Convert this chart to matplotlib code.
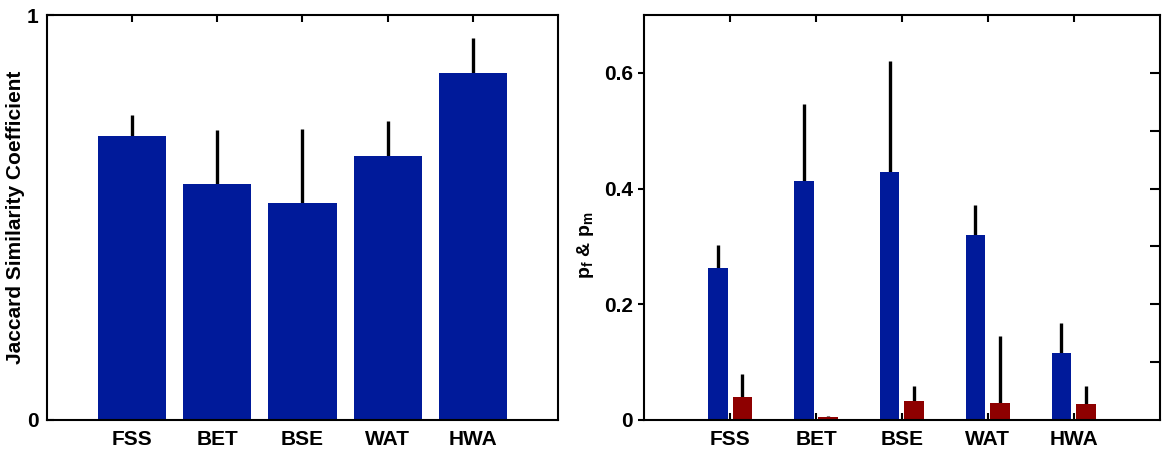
import numpy as np
import matplotlib
matplotlib.use("Agg")
import matplotlib.pyplot as plt

plt.rcParams['font.family'] = ['Liberation Sans', 'DejaVu Sans']
plt.rcParams['font.weight'] = 'bold'
plt.rcParams['mathtext.fontset'] = 'custom'
plt.rcParams['mathtext.rm'] = 'Liberation Sans:bold'
plt.rcParams['mathtext.bf'] = 'Liberation Sans:bold'
plt.rcParams['mathtext.it'] = 'Liberation Sans:bold'

## data
methods = ["FSS", "BET", "BSE", "WAT", "HWA"]
jsc = [0.701, 0.583, 0.536, 0.652, 0.858]
jsc_err = [0.052, 0.134, 0.183, 0.087, 0.085]
pf = [0.262, 0.414, 0.428, 0.320, 0.116]
pf_err = [0.041, 0.132, 0.192, 0.051, 0.051]
pm = [0.039, 0.005, 0.032, 0.029, 0.027]
pm_err = [0.040, 0.002, 0.027, 0.116, 0.031]

blue = "#001a9a"
red = "#8e0000"
x = np.arange(1, len(methods) + 1)
fs = 15

fig = plt.figure(figsize=(11.63, 4.57), dpi=100)
ax1 = fig.add_axes([0.0404, 0.081, 0.4394, 0.886])
ax2 = fig.add_axes([0.554, 0.081, 0.443, 0.886])

## left: Jaccard
ax1.bar(x, jsc, width=0.8, color=blue, zorder=2)
ax1.errorbar(x, jsc, yerr=[np.zeros(len(x)), jsc_err], fmt="none",
             ecolor="black", elinewidth=2.4, capsize=0, zorder=1)
ax1.set_xlim(0, 6)
ax1.set_ylim(0, 1)
ax1.set_yticks([0, 1])
ax1.set_yticklabels(["0", "1"])
ax1.set_xticks(x)
ax1.set_xticklabels(methods)
ax1.set_ylabel("Jaccard Similarity Coefficient", fontsize=fs, fontweight="bold")
ax1.yaxis.set_label_coords(-0.043, 0.5)
ax1.tick_params(axis="x", direction="in", top=True, bottom=True, length=5, width=1.5,
                labelsize=fs, pad=7)
ax1.tick_params(axis="y", direction="in", right=False, length=5, width=1.5, labelsize=fs, pad=6)

## right: pf & pm
off = 0.143
bw = 0.229
ax2.bar(x - off, pf, width=bw, color=blue, zorder=2)
ax2.bar(x + off, pm, width=bw, color=red, zorder=2)
ax2.errorbar(x - off, pf, yerr=[np.zeros(len(x)), pf_err], fmt="none",
             ecolor="black", elinewidth=2.4, capsize=0, zorder=1)
ax2.errorbar(x + off, pm, yerr=[np.zeros(len(x)), pm_err], fmt="none",
             ecolor="black", elinewidth=2.4, capsize=0, zorder=1)
ax2.set_xlim(0, 6)
ax2.set_ylim(0, 0.7)
ax2.set_yticks([0, 0.2, 0.4, 0.6])
ax2.set_yticklabels(["0", "0.2", "0.4", "0.6"])
ax2.set_xticks(x)
ax2.set_xticklabels(methods)
ax2.set_ylabel(r"$\mathbf{p_f}$ & $\mathbf{p_m}$", fontsize=14, fontweight="bold")
ax2.yaxis.set_label_coords(-0.093, 0.432)
ax2.tick_params(axis="x", direction="in", top=True, bottom=True, length=5, width=1.5,
                labelsize=fs, pad=7)
ax2.tick_params(axis="y", direction="out", left=True, right=False, length=4, width=1.5,
                labelsize=fs, pad=4)
# inward ticks on the right spine every 0.1
ax2.yaxis.remove_overlapping_locs = False
ax2.set_yticks(np.arange(0.1, 0.65, 0.1), minor=True)
ax2.tick_params(axis="y", which="minor", direction="in", left=False, right=True,
                length=7, width=1.5)

for ax in (ax1, ax2):
    for s in ax.spines.values():
        s.set_linewidth(1.5)
    for lab in ax.get_xticklabels() + ax.get_yticklabels():
        lab.set_fontweight("bold")

fig.savefig("out.png", dpi=100)
